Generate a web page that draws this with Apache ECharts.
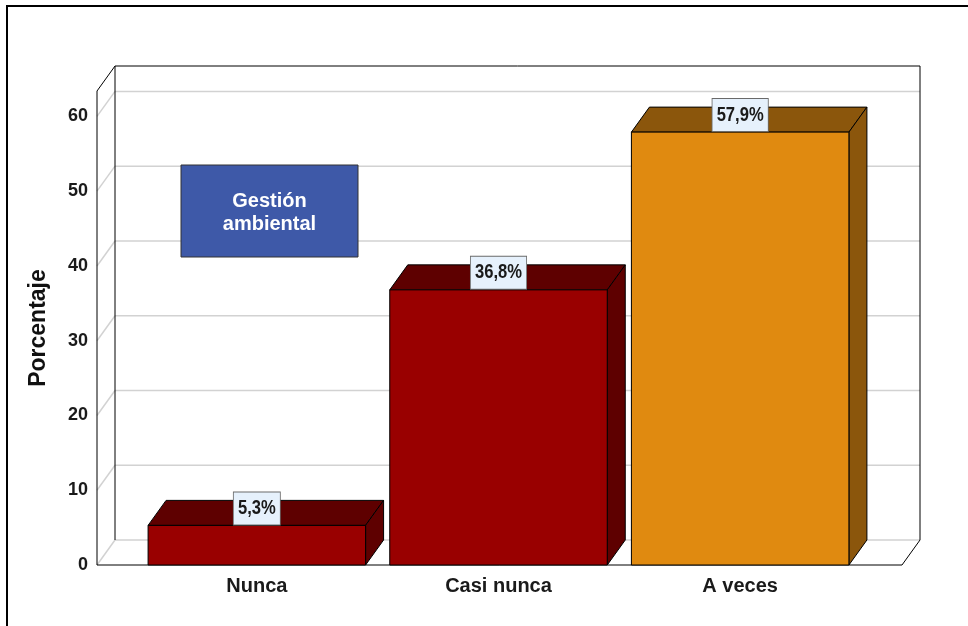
<!DOCTYPE html>
<html style="height: 100%">
<head>
<meta charset="utf-8">
</head>
<body style="height: 100%; margin: 0; background: #fff">
<div id="container" style="width: 968px; height: 626px"></div>
<script src="https://cdn.jsdelivr.net/npm/echarts@6/dist/echarts.min.js"></script>
<script>
// datos
const categorias = ['Nunca', 'Casi nunca', 'A veces'];
const porcentajes = [5.3, 36.8, 57.9];
const etiquetas = ['5,3%', '36,8%', '57,9%'];
const ticksY = [0, 10, 20, 30, 40, 50, 60];
const maxY = 63.4;
const leyenda = 'Gestión\nambiental';

// estilo 3D
const DX = 18, DY = 25;
const colorFrente = ['#990000', '#990000', '#e08a10'];
const colorSombra = ['#5e0000', '#5e0000', '#8b560c'];
const colorGrid = '#d2d2d2';
const fuente = '"Liberation Sans", Arial, sans-serif';

const dom = document.getElementById('container');
const myChart = echarts.init(dom);

function linea(x1, y1, x2, y2, color, w) {
  return {
    type: 'line',
    shape: { x1: x1, y1: y1, x2: x2, y2: y2 },
    style: { stroke: color, lineWidth: w || 1 }
  };
}

// paredes, suelo y rejilla
function renderMarco(params, api) {
  const cs = params.coordSys;
  const fx0 = cs.x - 39, fx1 = cs.x + cs.width + 41;
  const bx0 = fx0 + DX, bx1 = fx1 + DX;
  const yTopF = cs.y, yTopB = cs.y - DY;
  const y0F = api.coord([0, 0])[1], y0B = y0F - DY;
  const hijos = [];
  ticksY.forEach(function (t) {
    const y = api.coord([0, t])[1];
    hijos.push(linea(fx0, y, bx0, y - DY, colorGrid, 1.5));
    hijos.push(linea(bx0, y - DY, bx1, y - DY, colorGrid, 1.5));
  });
  hijos.push(linea(bx0, yTopB, bx0, y0B, '#000'));
  hijos.push(linea(bx0, yTopB, bx1, yTopB, '#000'));
  hijos.push(linea(bx1, yTopB, bx1, y0B, '#000'));
  hijos.push(linea(fx0, yTopF, bx0, yTopB, '#000'));
  hijos.push(linea(fx0, yTopF, fx0, y0F, '#000'));
  hijos.push(linea(fx0, y0F, fx1, y0F, '#000'));
  hijos.push(linea(fx1, y0F, bx1, y0B, '#000'));
  return { type: 'group', children: hijos };
}

// barras 3D con etiqueta
function renderBarra(params, api) {
  const i = params.dataIndex;
  const top = api.coord([api.value(0), api.value(1)]);
  const base = api.coord([api.value(0), 0]);
  const w = api.size([1, 0])[0] * 0.9;
  const x0 = top[0] - w / 2, x1 = top[0] + w / 2;
  const yt = top[1], yb = base[1];
  const borde = { stroke: '#000', lineWidth: 1 };
  return {
    type: 'group',
    children: [
      {
        type: 'polygon',
        shape: { points: [[x0, yt], [x1, yt], [x1 + DX, yt - DY], [x0 + DX, yt - DY]] },
        style: Object.assign({ fill: colorSombra[i] }, borde)
      },
      {
        type: 'polygon',
        shape: { points: [[x1, yt], [x1 + DX, yt - DY], [x1 + DX, yb - DY], [x1, yb]] },
        style: Object.assign({ fill: colorSombra[i] }, borde)
      },
      {
        type: 'rect',
        shape: { x: x0, y: yt, width: w, height: yb - yt },
        style: Object.assign({ fill: colorFrente[i] }, borde)
      },
      {
        // etiqueta algo estrecha, como en el original
        type: 'text',
        x: top[0],
        y: yt - 1,
        scaleX: 0.83,
        style: {
          text: etiquetas[i],
          x: 0,
          y: 0,
          align: 'center',
          verticalAlign: 'bottom',
          font: 'bold 20px ' + fuente,
          fill: '#1a1a1a',
          backgroundColor: '#e6f1fc',
          borderColor: '#6a6a6a',
          borderWidth: 1,
          padding: [6, 5, 6, 5]
        }
      }
    ]
  };
}

const option = {
  animation: false,
  grid: { left: 136, right: 107, top: 91, bottom: 61 },
  xAxis: {
    type: 'category',
    data: categorias,
    axisLine: { show: false },
    axisTick: { show: false },
    axisLabel: { margin: 11, fontSize: 20, fontWeight: 'bold', color: '#1a1a1a', fontFamily: fuente }
  },
  yAxis: {
    type: 'value',
    min: 0,
    max: maxY,
    interval: 10,
    offset: 39,
    name: 'Porcentaje',
    nameLocation: 'middle',
    nameRotate: 90,
    nameGap: 47,
    nameTextStyle: { fontSize: 23, fontWeight: 'bold', color: '#111', fontFamily: fuente },
    axisLine: { show: false },
    axisTick: { show: false },
    splitLine: { show: false },
    axisLabel: {
      margin: 9,
      fontSize: 18,
      fontWeight: 'bold',
      color: '#1a1a1a',
      fontFamily: fuente,
      formatter: function (v) { return ticksY.indexOf(v) >= 0 ? String(v) : ''; }
    }
  },
  graphic: {
    elements: [
      {
        type: 'rect',
        x: 0,
        y: 0,
        shape: { x: 7, y: 6, width: 1000, height: 700 },
        style: { fill: null, stroke: '#000', lineWidth: 2 },
        z: 100
      },
      {
        type: 'rect',
        x: 0,
        y: 0,
        shape: { x: 181, y: 165, width: 177, height: 92 },
        style: { fill: '#3e59a8', stroke: '#333', lineWidth: 1 },
        z: 100
      },
      {
        type: 'text',
        x: 269.5,
        y: 213,
        style: {
          text: leyenda,
          align: 'center',
          verticalAlign: 'middle',
          font: 'bold 20px ' + fuente,
          lineHeight: 23,
          fill: '#fff'
        },
        z: 101
      }
    ]
  },
  series: [
    {
      type: 'custom',
      silent: true,
      z: 1,
      data: [[0, 0]],
      renderItem: renderMarco
    },
    {
      type: 'custom',
      z: 2,
      data: porcentajes.map(function (v, i) { return [i, v]; }),
      renderItem: renderBarra
    }
  ]
};

myChart.setOption(option);
</script>
</body>
</html>
